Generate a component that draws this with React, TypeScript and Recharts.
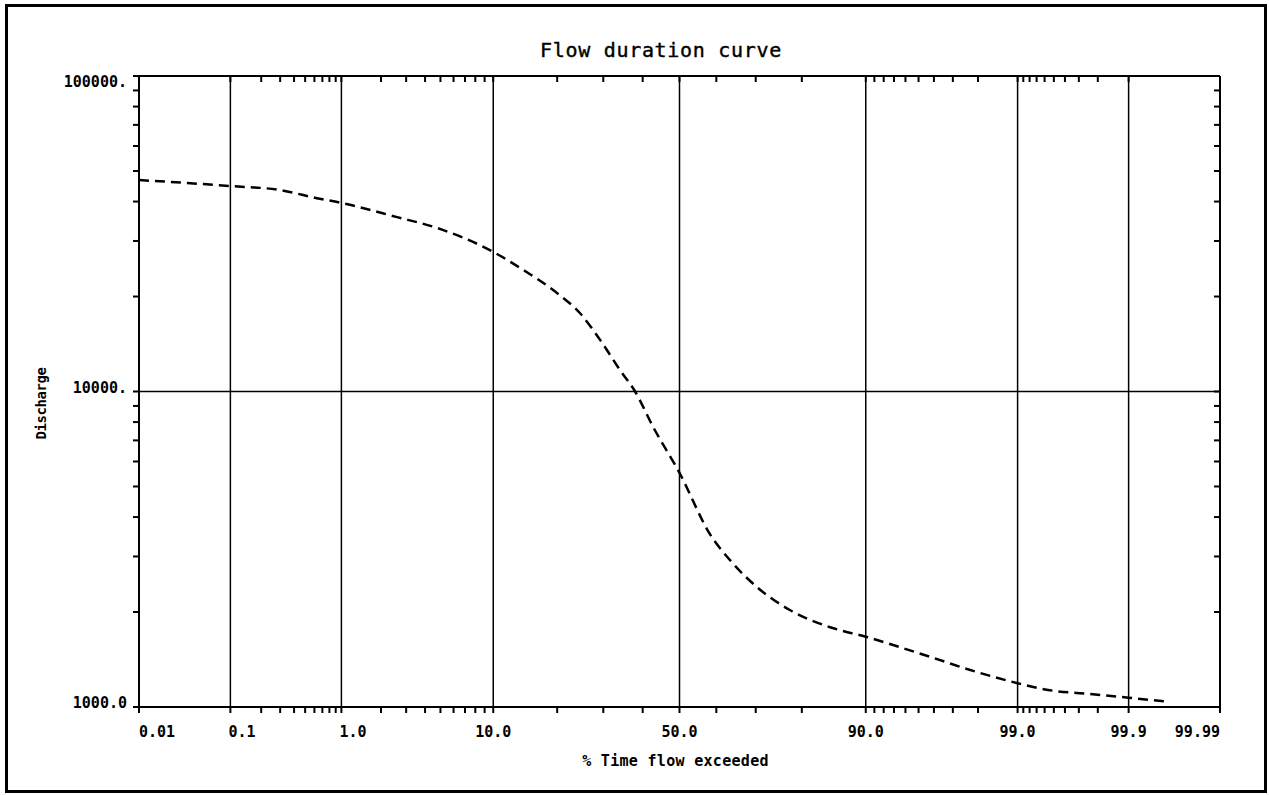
import { LineChart, Line, XAxis, YAxis, ReferenceLine } from "recharts";

// flow duration curve
const percentExceeded = [
  0.01, 0.1, 0.3, 0.63, 1, 2.6, 4.75, 10, 14.1, 20, 24.7, 29.2, 34.1, 38, 42.8, 50,
  58.5, 63.6, 70.3, 77.6, 85, 90, 95.8, 97.97, 99, 99.46, 99.76, 99.9, 99.96,
];
const discharge = [
  46800, 44800, 43500, 41000, 39600, 35700, 33000, 27700, 24300, 20500, 17700, 14600, 11700, 10000, 7720, 5520,
  3500, 2920, 2400, 2030, 1790, 1670, 1440, 1290, 1190, 1130, 1100, 1070, 1040,
];

const majorPercents = [0.01, 0.1, 1, 10, 50, 90, 99, 99.9, 99.99];
const majorLabels = ["0.01", "0.1", "1.0", "10.0", "50.0", "90.0", "99.0", "99.9", "99.99"];
const minorPercents = [
  0.2, 0.3, 0.4, 0.5, 0.6, 0.7, 0.8, 0.9,
  2, 3, 4, 5, 6, 7, 8, 9,
  20, 30, 40, 60, 70, 80,
  91, 92, 93, 94, 95, 96, 97, 98,
  99.1, 99.2, 99.3, 99.4, 99.5, 99.6, 99.7, 99.8,
];
const gridPercents = [0.1, 1, 10, 50, 90, 99, 99.9];

const yMajor = [1000, 10000, 100000];
const yLabels = ["1000.0", "10000.", "100000."];
const yMinor = [2000, 3000, 4000, 5000, 6000, 7000, 8000, 9000, 20000, 30000, 40000, 50000, 60000, 70000, 80000, 90000];

// inverse normal CDF (Acklam) -> normal probability paper scale
function probit(pct: number) {
  const p = pct / 100;
  const a = [-3.969683028665376e1, 2.209460984245205e2, -2.759285104469687e2, 1.38357751867269e2, -3.066479806614716e1, 2.506628277459239];
  const b = [-5.447609879822406e1, 1.615858368580409e2, -1.556989798598866e2, 6.680131188771972e1, -1.328068155288572e1];
  const c = [-7.784894002430293e-3, -3.223964580411365e-1, -2.400758277161838, -2.549732539343734, 4.374664141464968, 2.938163982698783];
  const d = [7.784695709041462e-3, 3.224671290700398e-1, 2.445134137142996, 3.754408661907416];
  const pl = 0.02425;
  if (p < pl) {
    const q = Math.sqrt(-2 * Math.log(p));
    return (((((c[0] * q + c[1]) * q + c[2]) * q + c[3]) * q + c[4]) * q + c[5]) / ((((d[0] * q + d[1]) * q + d[2]) * q + d[3]) * q + 1);
  }
  if (p <= 1 - pl) {
    const q = p - 0.5;
    const r = q * q;
    return ((((((a[0] * r + a[1]) * r + a[2]) * r + a[3]) * r + a[4]) * r + a[5]) * q) / (((((b[0] * r + b[1]) * r + b[2]) * r + b[3]) * r + b[4]) * r + 1);
  }
  const q = Math.sqrt(-2 * Math.log(1 - p));
  return -(((((c[0] * q + c[1]) * q + c[2]) * q + c[3]) * q + c[4]) * q + c[5]) / ((((d[0] * q + d[1]) * q + d[2]) * q + d[3]) * q + 1);
}

const data = percentExceeded.map((p, i) => ({ z: probit(p), q: discharge[i] }));
const majorZ = majorPercents.map(probit);
const xTicks = [...majorZ, ...minorPercents.map(probit)].sort((a, b) => a - b);
const yTicks = [...yMajor, ...yMinor].sort((a, b) => a - b);
const zDomain = [majorZ[0], majorZ[majorZ.length - 1]];

const FONT = "'DejaVu Sans Mono', monospace";
const INK = "#000";
const axisStroke = { stroke: INK, strokeWidth: 2 };

function XTick({ x, y, payload }: any) {
  const i = majorZ.findIndex((z) => Math.abs(z - payload.value) < 1e-9);
  if (i < 0) return null;
  const anchor = i <= 2 ? "start" : i === majorZ.length - 1 ? "end" : "middle";
  return (
    <text x={x + (i === 0 ? 0 : i <= 2 ? -2 : 0)} y={y} dy={22} textAnchor={anchor}
      fontFamily={FONT} fontSize={15} fontWeight="bold" fill={INK}>
      {majorLabels[i]}
    </text>
  );
}

function YTick({ x, y, payload }: any) {
  const i = yMajor.indexOf(payload.value);
  if (i < 0) return null;
  return (
    <text x={x - 4} y={y} dy={i === yMajor.length - 1 ? 11 : 1} textAnchor="end"
      fontFamily={FONT} fontSize={15} fontWeight="bold" fill={INK}>
      {yLabels[i]}
    </text>
  );
}

// tick marks only, no text (top and right frame edges)
function NoLabel() {
  return null;
}

function XTitle({ viewBox }: any) {
  return (
    <text x={viewBox.x + viewBox.width / 2 - 4} y={viewBox.y + 59} textAnchor="middle"
      fontFamily={FONT} fontSize={15} fontWeight="bold" letterSpacing={0.3} fill={INK}>
      % Time flow exceeded
    </text>
  );
}

function YTitle({ viewBox }: any) {
  const cx = viewBox.x + 17;
  const cy = viewBox.y + viewBox.height / 2 + 12;
  return (
    <text x={cx} y={cy} textAnchor="middle" transform={`rotate(-90 ${cx} ${cy})`}
      fontFamily={FONT} fontSize={14} fontWeight="bold" letterSpacing={-0.45} fill={INK}>
      Discharge
    </text>
  );
}

export default function App() {
  return (
    <div style={{ position: "absolute", left: 0, top: 0, width: 1269, height: 795, background: "#fff" }}>
      <div style={{
        position: "absolute", left: 5, top: 4, width: 1262, height: 789,
        boxSizing: "border-box", border: "3px solid #000",
      }} />
      <div style={{
        position: "absolute", left: 661, top: 38, transform: "translateX(-50%)",
        fontFamily: FONT, fontSize: 20, letterSpacing: 0.7, color: INK, whiteSpace: "nowrap",
        WebkitTextStroke: "0.4px #000",
      }}>
        Flow duration curve
      </div>
      <div style={{ position: "absolute", left: 0, top: 0 }}>
        <LineChart width={1269} height={795} data={data}
          margin={{ top: 76, right: 49, left: 29, bottom: 28 }}>
          <XAxis dataKey="z" type="number" domain={zDomain} allowDataOverflow
            ticks={xTicks} interval={0} tickSize={6} tick={<XTick />}
            axisLine={axisStroke} tickLine={axisStroke} height={60}
            label={XTitle} />
          <XAxis xAxisId="top" dataKey="z" type="number" domain={zDomain} allowDataOverflow
            orientation="top" mirror height={1} ticks={xTicks} interval={0} tickSize={6}
            tick={<NoLabel />} axisLine={axisStroke} tickLine={axisStroke} />
          <YAxis dataKey="q" type="number" scale="log" domain={[1000, 100000]} allowDataOverflow
            ticks={yTicks} interval={0} tickSize={6} tick={<YTick />} width={110}
            axisLine={axisStroke} tickLine={axisStroke} label={YTitle} />
          <YAxis yAxisId="right" type="number" scale="log" domain={[1000, 100000]} allowDataOverflow
            orientation="right" mirror width={1} ticks={yTicks} interval={0} tickSize={6}
            tick={<NoLabel />} axisLine={axisStroke} tickLine={axisStroke} />
          {gridPercents.map((p) => (
            <ReferenceLine key={p} x={probit(p)} stroke={INK} strokeWidth={1.5} />
          ))}
          <ReferenceLine y={10000} stroke={INK} strokeWidth={1.5} />
          <Line dataKey="q" type="monotone" stroke={INK} strokeWidth={2.5}
            strokeDasharray="10 6" dot={false} isAnimationActive={false} />
        </LineChart>
      </div>
    </div>
  );
}
